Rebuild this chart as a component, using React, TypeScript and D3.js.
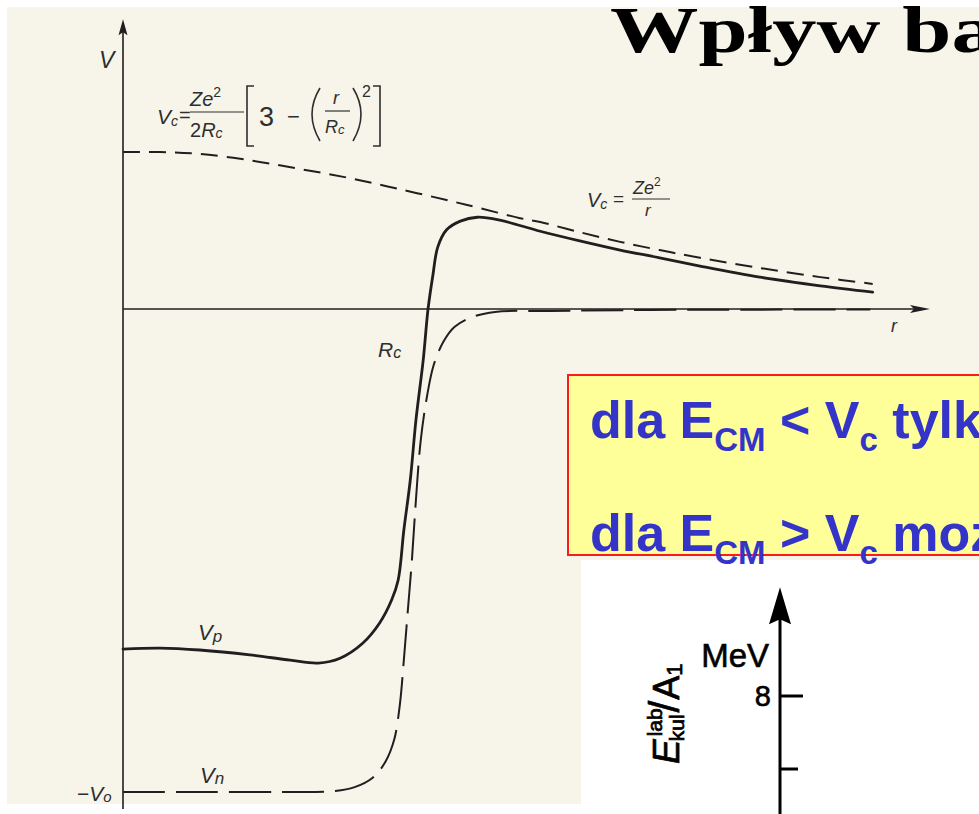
import React, { useEffect } from 'react';
import * as d3 from 'd3';

const W = 979;
const H = 814;

// Radius r in arbitrary units, potential V in units of V0/10 (so -10 is the well depth)
const coulombR = [0, 0.46, 0.95, 1.57, 2.19, 2.81, 3.43, 4.05, 4.42, 4.92, 5.17, 5.66, 6.16, 6.65, 7.15, 7.89, 8.64, 9.29];
const coulombV = [3.25, 3.25, 3.21, 3.08, 2.9, 2.71, 2.48, 2.24, 2.09, 1.88, 1.8, 1.59, 1.39, 1.22, 1.06, 0.85, 0.66, 0.52];

const protonR = [0, 0.46, 0.95, 1.57, 2.07, 2.42, 2.69, 2.97, 3.18, 3.33, 3.41, 3.48, 3.56, 3.63, 3.72, 3.78, 3.84, 3.9, 4.01, 4.18, 4.39, 4.67, 5.17, 5.66, 6.16, 6.65, 7.15, 7.89, 8.64, 9.29];
const protonV = [-7.04, -7.02, -7.06, -7.16, -7.27, -7.33, -7.23, -6.92, -6.5, -6.02, -5.61, -4.58, -3.54, -2.3, -1.06, 0, 0.7, 1.28, 1.64, 1.82, 1.9, 1.84, 1.61, 1.41, 1.22, 1.06, 0.89, 0.66, 0.48, 0.35];

const neutronR = [0, 0.95, 1.95, 2.63, 2.87, 3.09, 3.25, 3.36, 3.43, 3.48, 3.53, 3.58, 3.63, 3.69, 3.77, 3.85, 3.97, 4.11, 4.32, 4.61, 5.29, 6.53, 9.26];
const neutronV = [-10, -10, -10, -9.98, -9.9, -9.71, -9.38, -8.92, -8.2, -7.27, -6.23, -5.2, -3.95, -2.71, -1.78, -1.16, -0.68, -0.37, -0.17, -0.06, -0.04, -0.02, -0.01];

// Axis extents in data units
const rAxisEnd = 10;
const vAxisTop = 6.0;
const vAxisBottom = -10.35;

// Energy axis of the inset (MeV per nucleon)
const energyTicks = [8, 7];
const energyLabels = ['8', ''];
const energyTop = 9.49;
const energyBottom = 6.3;

const ink = '#1f1f1f';
const labelInk = '#2e2e2e';
const sans = 'Liberation Sans, Arial, Helvetica, sans-serif';
const serif = 'Liberation Serif, Times New Roman, serif';

export default function App() {
  useEffect(() => {
    document.body.style.margin = '0';
  }, []);

  const x = d3.scaleLinear().domain([0, 10]).range([123, 930]);
  const y = d3.scaleLinear().domain([-10, 0]).range([792, 309]);

  const line = d3
    .line<[number, number]>()
    .x((d) => x(d[0]))
    .y((d) => y(d[1]))
    .curve(d3.curveCatmullRom.alpha(0.5));

  const zip = (a: number[], b: number[]) => a.map((v, i) => [v, b[i]] as [number, number]);

  const coulombPath = line(zip(coulombR, coulombV)) || '';
  const protonPath = line(zip(protonR, protonV)) || '';
  const neutronPath = line(zip(neutronR, neutronV)) || '';

  const x0 = x(0);
  const y0 = y(0);
  const vTop = y(vAxisTop);
  const rEnd = x(rAxisEnd);

  const e = d3.scaleLinear().domain([7, 8]).range([769, 696]);
  const eAxisX = 780;
  const eTip = e(energyTop);

  const itText = { fontFamily: sans, fontStyle: 'italic' as const, fill: labelInk };

  return (
    <svg
      width={W}
      height={H}
      viewBox={`0 0 ${W} ${H}`}
      style={{ position: 'absolute', left: 0, top: 0, display: 'block', overflow: 'hidden' }}
    >
      <rect x={0} y={0} width={W} height={H} fill="#ffffff" />
      {/* scanned page */}
      <rect x={7} y={7} width={W - 7} height={797} fill="#f7f5ea" />
      <rect x={581} y={560} width={W - 581} height={H - 560} fill="#ffffff" />

      {/* axes */}
      <line x1={x0} y1={y(vAxisBottom)} x2={x0} y2={vTop + 10} stroke={ink} strokeWidth={1.6} />
      <path d={`M${x0},${vTop} L${x0 - 4.5},${vTop + 16} L${x0},${vTop + 13} L${x0 + 4.5},${vTop + 16} Z`} fill={ink} />
      <line x1={x0} y1={y0} x2={rEnd - 10} y2={y0} stroke={ink} strokeWidth={1.5} />
      <path d={`M${rEnd},${y0} L${rEnd - 20},${y0 - 4} L${rEnd - 16},${y0} L${rEnd - 20},${y0 + 4} Z`} fill={ink} />

      {/* curves */}
      <path d={coulombPath} fill="none" stroke={ink} strokeWidth={2} strokeDasharray="17 9" />
      <path d={neutronPath} fill="none" stroke={ink} strokeWidth={2} strokeDasharray="42 11" />
      <path d={protonPath} fill="none" stroke={ink} strokeWidth={2.8} strokeLinecap="round" />

      {/* axis labels */}
      <text x={99} y={68} fontSize={23} {...itText}>V</text>
      <text x={891} y={332} fontSize={18} {...itText}>r</text>
      <text x={378} y={357} fontSize={21} {...itText}>
        R<tspan fontSize={16} dy={1}>c</tspan>
      </text>
      <text x={198} y={640} fontSize={22} {...itText}>
        V<tspan fontSize={17} dy={2}>p</tspan>
      </text>
      <text x={200} y={783} fontSize={22} {...itText}>
        V<tspan fontSize={17} dy={1}>n</tspan>
      </text>
      <text x={77} y={801} fontSize={21} {...itText}>
        <tspan fontStyle="normal">−</tspan>V<tspan fontSize={15} dy={1}>o</tspan>
      </text>

      {/* inner Coulomb formula */}
      <g {...itText}>
        <text x={157} y={124} fontSize={21}>
          V<tspan fontSize={14} dy={2}>c</tspan>
        </text>
        <text x={179} y={122} fontSize={20} fontStyle="normal">=</text>
        <text x={190} y={106} fontSize={20}>
          Ze<tspan fontSize={14} dy={-9} fontStyle="normal">2</tspan>
        </text>
        <line x1={190} y1={112} x2={244} y2={112} stroke={labelInk} strokeWidth={1.2} />
        <text x={190} y={137} fontSize={20}>
          <tspan fontStyle="normal">2</tspan>R<tspan fontSize={14} dy={1}>c</tspan>
        </text>
        <path d="M254,86 L247,86 L247,146 L254,146" fill="none" stroke={labelInk} strokeWidth={1.6} />
        <text x={259} y={126} fontSize={27} fontStyle="normal">3</text>
        <text x={287} y={124} fontSize={22} fontStyle="normal">−</text>
        <path d="M320,88 Q304,114 320,141" fill="none" stroke={labelInk} strokeWidth={1.6} />
        <text x={333} y={104} fontSize={18}>r</text>
        <line x1={325} y1={111} x2={350} y2={111} stroke={labelInk} strokeWidth={1.2} />
        <text x={325} y={133} fontSize={18}>
          R<tspan fontSize={13} dy={1}>c</tspan>
        </text>
        <path d="M353,88 Q369,114 353,141" fill="none" stroke={labelInk} strokeWidth={1.6} />
        <text x={362} y={97} fontSize={16} fontStyle="normal">2</text>
        <path d="M373,86 L380,86 L380,146 L373,146" fill="none" stroke={labelInk} strokeWidth={1.6} />
      </g>

      {/* outer Coulomb formula */}
      <g {...itText}>
        <text x={587} y={207} fontSize={20}>
          V<tspan fontSize={14} dy={2}>c</tspan>
        </text>
        <text x={613} y={205} fontSize={19} fontStyle="normal">=</text>
        <text x={633} y={194} fontSize={18}>
          Ze<tspan fontSize={12} dy={-8} fontStyle="normal">2</tspan>
        </text>
        <line x1={632} y1={199} x2={670} y2={199} stroke={labelInk} strokeWidth={1.2} />
        <text x={645} y={216} fontSize={17}>r</text>
      </g>

      {/* slide title */}
      <g transform="translate(610,52) scale(1.34,1)">
        <text x={0} y={0} fontFamily={serif} fontWeight="bold" fontSize={66} fill="#000">
          Wpływ bariery
        </text>
      </g>

      {/* highlighted note */}
      <rect x={568} y={375} width={W - 568 + 20} height={180} fill="#ffff99" stroke="#ff1a1a" strokeWidth={2} />
      <text x={590} y={438} fontFamily={sans} fontWeight="bold" fontSize={52} fill="#3434c8">
        dla E<tspan fontSize={33} dy={13}>CM</tspan>
        <tspan dy={-13}> &lt; V</tspan>
        <tspan fontSize={33} dy={13}>c</tspan>
        <tspan dy={-13}> tylko</tspan>
      </text>
      <text x={590} y={551} fontFamily={sans} fontWeight="bold" fontSize={52} fill="#3434c8">
        dla E<tspan fontSize={33} dy={13}>CM</tspan>
        <tspan dy={-13}> &gt; V</tspan>
        <tspan fontSize={33} dy={13}>c</tspan>
        <tspan dy={-13}> możliwe</tspan>
      </text>

      {/* inset: Coulomb barrier energy axis */}
      <line x1={eAxisX} y1={e(energyBottom)} x2={eAxisX} y2={eTip + 30} stroke="#000" strokeWidth={3} />
      <path d={`M${eAxisX},${eTip} L${eAxisX - 11},${eTip + 37} L${eAxisX},${eTip + 32} L${eAxisX + 11},${eTip + 37} Z`} fill="#000" />
      {energyTicks.map((t, i) => (
        <g key={t}>
          <line x1={eAxisX} y1={e(t)} x2={eAxisX + (i === 0 ? 23 : 18)} y2={e(t)} stroke="#000" strokeWidth={3} />
          {energyLabels[i] && (
            <text x={eAxisX - 9} y={e(t) + 10} textAnchor="end" fontFamily={sans} fontSize={29} fill="#000" stroke="#000" strokeWidth={0.6}>
              {energyLabels[i]}
            </text>
          )}
        </g>
      ))}
      <text x={eAxisX - 11} y={667} textAnchor="end" fontFamily={sans} fontSize={33} fill="#000" stroke="#000" strokeWidth={0.6}>
        MeV
      </text>
      <g transform="translate(679,764) rotate(-90)">
        <text x={0} y={0} fontFamily={sans} fontSize={37} fill="#000" stroke="#000" strokeWidth={0.7}>
          <tspan fontStyle="italic">E</tspan>
          <tspan fontSize={21} dx={3} dy={-17}>lab</tspan>
          <tspan fontSize={21} dx={-33} dy={22}>kul</tspan>
          <tspan fontSize={42} dx={2} dy={-5}>/</tspan>
          <tspan fontSize={36} dx={1}>A</tspan>
          <tspan fontSize={22} dy={3}>1</tspan>
        </text>
      </g>
    </svg>
  );
}
